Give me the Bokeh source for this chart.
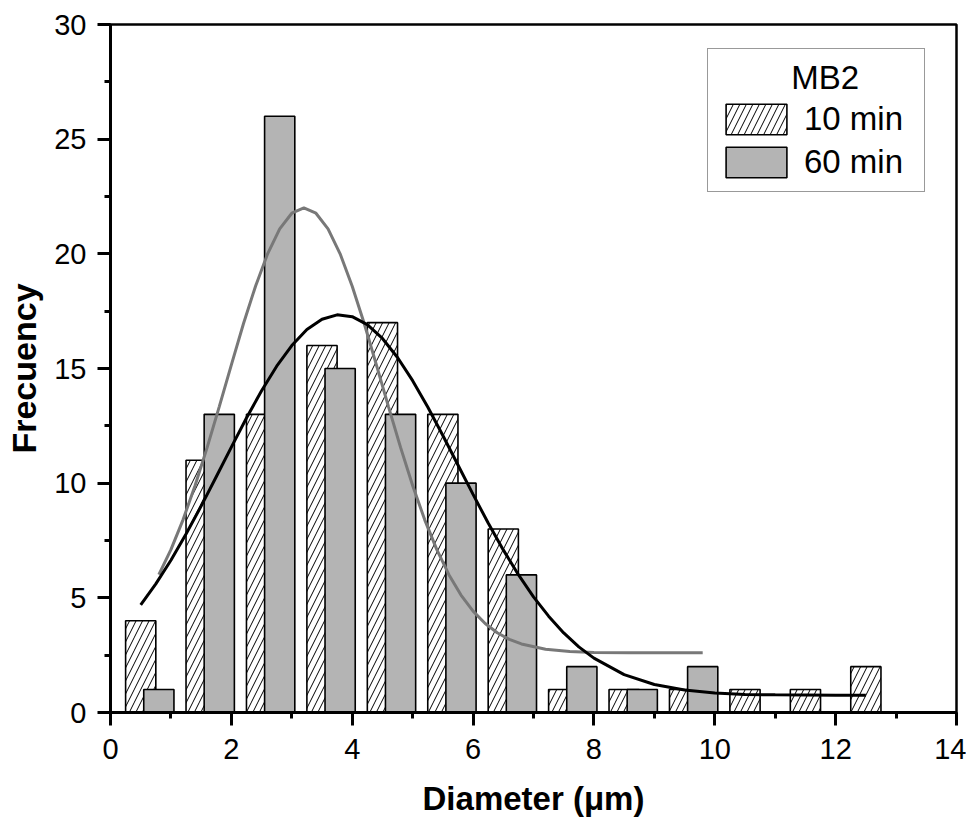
from bokeh.plotting import figure
from bokeh.models import Range1d, SingleIntervalTicker, Legend, LegendItem, ColumnDataSource
from bokeh.embed import file_html
from bokeh.resources import INLINE

# ---- data ----
bins_10min = [0.5, 1.5, 2.5, 3.5, 4.5, 5.5, 6.5, 7.5, 8.5, 9.5, 10.5, 11.5, 12.5]
freq_10min = [4, 11, 13, 16, 17, 13, 8, 1, 1, 1, 1, 1, 2]

bins_60min = [0.8, 1.8, 2.8, 3.8, 4.8, 5.8, 6.8, 7.8, 8.8, 9.8]
freq_60min = [1, 13, 26, 15, 13, 10, 6, 2, 1, 2]

fit_10min_x = [0.5, 0.75, 1.0, 1.25, 1.5, 1.75, 2.0, 2.25, 2.5, 2.75, 3.0, 3.25, 3.5, 3.75,
               4.0, 4.25, 4.5, 4.75, 5.0, 5.25, 5.5, 5.75, 6.0, 6.25, 6.5, 6.75, 7.0, 7.25,
               7.5, 7.75, 8.0, 8.5, 9.0, 9.5, 10.0, 10.5, 11.0, 11.5, 12.0, 12.5]
fit_10min_y = [4.69, 5.61, 6.64, 7.78, 9.00, 10.28, 11.57, 12.84, 14.03, 15.10, 16.00, 16.70,
               17.15, 17.34, 17.26, 16.91, 16.31, 15.48, 14.47, 13.32, 12.08, 10.79, 9.51,
               8.26, 7.09, 6.01, 5.04, 4.20, 3.47, 2.86, 2.37, 1.65, 1.22, 0.98, 0.85, 0.79,
               0.77, 0.76, 0.75, 0.75]

fit_60min_x = [0.8, 1.0, 1.2, 1.4, 1.6, 1.8, 2.0, 2.2, 2.4, 2.6, 2.8, 3.0, 3.2, 3.4, 3.6,
               3.8, 4.0, 4.2, 4.4, 4.6, 4.8, 5.0, 5.2, 5.4, 5.6, 5.8, 6.0, 6.2, 6.4, 6.6,
               6.8, 7.2, 7.6, 8.0, 8.6, 9.2, 9.8]
fit_60min_y = [6.01, 7.10, 8.40, 9.90, 11.56, 13.34, 15.16, 16.95, 18.59, 20.00, 21.09,
               21.77, 22.00, 21.77, 21.09, 20.00, 18.59, 16.95, 15.16, 13.34, 11.56, 9.90,
               8.40, 7.10, 6.01, 5.12, 4.42, 3.88, 3.48, 3.19, 2.99, 2.76, 2.66, 2.62,
               2.60, 2.60, 2.60]

x_label = "Diameter (\u03bcm)"
y_label = "Frecuency"
legend_title = "MB2"
series_labels = ["10 min", "60 min"]

FONT = "Liberation Sans"
GRAY_FILL = "#b4b4b4"
GRAY_LINE = "#787878"

p = figure(width=966, height=819, output_backend="svg", toolbar_location=None,
           x_range=Range1d(0, 14), y_range=Range1d(0, 30),
           min_border_left=110, min_border_right=10, min_border_top=24, min_border_bottom=106)

p.xgrid.visible = False
p.ygrid.visible = False
p.background_fill_color = "white"
p.border_fill_color = "white"
p.outline_line_color = "black"
p.outline_line_width = 2.5
p.outline_line_alpha = 1.0

p.xaxis.ticker = SingleIntervalTicker(interval=2, num_minor_ticks=2)
p.yaxis.ticker = SingleIntervalTicker(interval=5, num_minor_ticks=2)

for ax in (p.xaxis[0], p.yaxis[0]):
    ax.axis_line_width = 3
    ax.axis_line_color = "black"
    ax.major_tick_line_width = 3
    ax.minor_tick_line_width = 3
    ax.major_tick_line_color = "black"
    ax.minor_tick_line_color = "black"
    ax.major_tick_in = 0
    ax.major_tick_out = 13
    ax.minor_tick_in = 0
    ax.minor_tick_out = 6
    ax.major_label_text_font = FONT
    ax.major_label_text_font_size = "29px"
    ax.major_label_text_color = "black"
    ax.axis_label_text_font = FONT
    ax.axis_label_text_font_style = "bold"
    ax.axis_label_text_color = "black"

p.xaxis.axis_label = x_label
p.yaxis.axis_label = y_label
p.xaxis.axis_label_text_font_size = "33px"
p.yaxis.axis_label_text_font_size = "34px"
p.xaxis.major_label_standoff = 13
p.xaxis.axis_label_standoff = 18
p.yaxis.major_label_standoff = 11
p.yaxis.axis_label_standoff = 8

src10 = ColumnDataSource(dict(x=bins_10min, top=freq_10min))
src60 = ColumnDataSource(dict(x=bins_60min, top=freq_60min))

r10 = p.vbar(x="x", top="top", bottom=0, width=0.5, source=src10,
             fill_color="white", line_color="black", line_width=1.6,
             hatch_pattern="/", hatch_color="black", hatch_weight=1, hatch_scale=13)
r60 = p.vbar(x="x", top="top", bottom=0, width=0.5, source=src60,
             fill_color=GRAY_FILL, line_color="black", line_width=1.6)

p.line(fit_60min_x, fit_60min_y, line_color=GRAY_LINE, line_width=3)
p.line(fit_10min_x, fit_10min_y, line_color="black", line_width=3)

legend = Legend(items=[LegendItem(label=series_labels[0], renderers=[r10]),
                       LegendItem(label=series_labels[1], renderers=[r60])],
                location=(597, 520),
                title="\u00a0" * 8 + legend_title,
                title_text_font=FONT, title_text_font_size="33px", title_text_font_style="normal",
                title_text_color="black", title_standoff=3,
                label_text_font=FONT, label_text_font_size="33px", label_text_color="black",
                label_standoff=10, glyph_width=76, glyph_height=38, label_height=38,
                label_width=110, spacing=5, padding=10, margin=0,
                border_line_color="#333333", border_line_width=1.5,
                background_fill_color="white", background_fill_alpha=1.0)
p.add_layout(legend, "center")

open("out.html", "w").write(file_html(p, INLINE))
